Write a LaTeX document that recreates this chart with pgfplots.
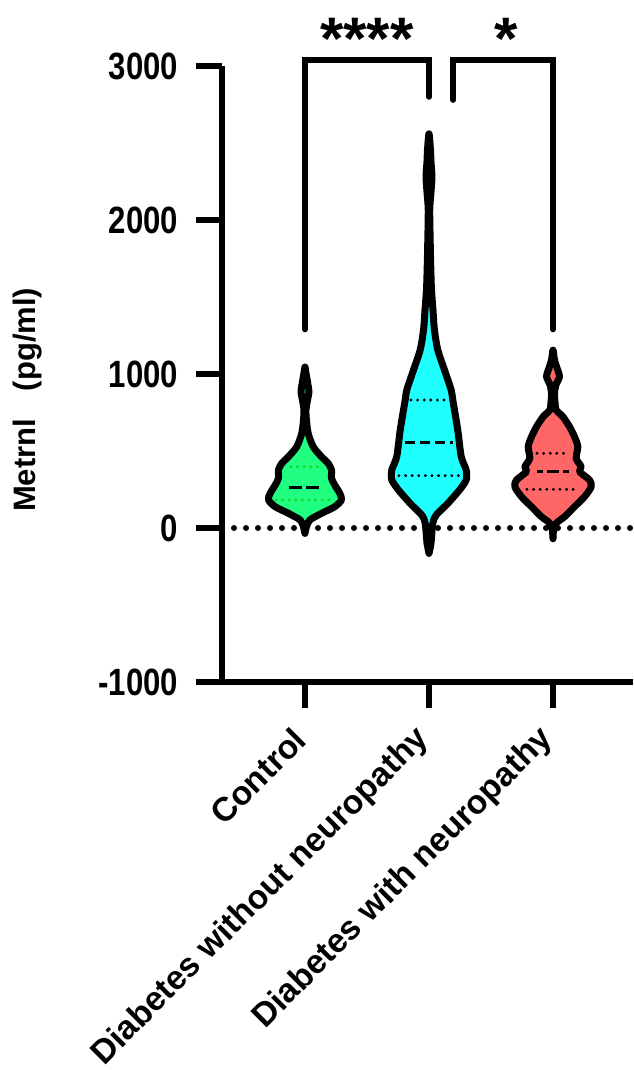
\documentclass[border=0pt]{standalone}
\usepackage{fontspec}
\setmainfont{Liberation Sans}
\usepackage{pgfplots}
\pgfplotsset{compat=1.18}
\definecolor{vgreen}{RGB}{32,255,128}
\definecolor{vcyan}{RGB}{32,255,255}
\definecolor{vred}{RGB}{255,102,102}
\definecolor{qgreen}{RGB}{20,215,40}
\begin{document}
\begin{tikzpicture}
\useasboundingbox (-111pt,-196.5pt) rectangle (205.5pt,341pt);
\begin{axis}[
  at={(0pt,0pt)}, anchor=south west,
  scale only axis, width=205.5pt, height=308pt,
  xmin=0.331, xmax=3.645, ymin=-1000, ymax=3000,
  axis x line=bottom, axis y line=left,
  axis line style={-, line width=3.3pt},
  clip=false,
  xtick={1,2,3},
  xticklabels={Control, Diabetes without neuropathy, Diabetes with neuropathy},
  ytick={-1000,0,1000,2000,3000},
  tick align=outside, major tick length=13pt,
  tick style={black, line width=3.3pt},
  scaled y ticks=false,
  /pgf/number format/1000 sep={},
  /pgf/number format/assume math mode=true,
  yticklabel style={font=\fontsize{19}{19}\selectfont\bfseries, xshift=-6pt, xscale=0.82, anchor=east},
  xticklabel style={font=\fontsize{16.8}{16.8}\selectfont\bfseries, rotate=45, anchor=east},
  xticklabel shift=10.5pt,
  ylabel={Metrnl\hspace{0.9em}(pg/ml)},
  ylabel style={font=\fontsize{15.5}{15.5}\selectfont\bfseries, at={(axis description cs:-0.472,0.458)}, anchor=center},
]
% zero line
\addplot[black, line width=3pt, dash pattern=on 0pt off 6pt, line cap=round] coordinates {(0.331,0) (3.645,0)};

% Control violin
\addplot[draw=black, line width=3.5pt, fill=vgreen, smooth, tension=0.45, line join=round] coordinates {
(1,-35) (1.012,8) (1.039,52) (1.133,95) (1.240,138) (1.294,182) (1.281,225) (1.240,279) (1.214,323) (1.214,377) (1.187,420) (1.133,463) (1.066,528) (1.026,615) (1.012,701) (1.008,766) (1.020,830) (1.032,885) (1.020,950) (1.008,1006) (1,1045)
(0.992,1006) (0.980,950) (0.968,885) (0.980,830) (0.992,766) (0.988,701) (0.974,615) (0.934,528) (0.867,463) (0.813,420) (0.786,377) (0.786,323) (0.760,279) (0.719,225) (0.706,182) (0.760,138) (0.867,95) (0.961,52) (0.988,8)
} -- cycle;

% Diabetes without neuropathy violin
\addplot[draw=black, line width=3.5pt, fill=vcyan, smooth, tension=0.45, line join=round] coordinates {
(2,-165) (2.016,-100) (2.031,31) (2.058,84) (2.152,160) (2.246,247) (2.300,312) (2.300,377) (2.260,463) (2.232,636) (2.192,831) (2.179,896) (2.125,1026) (2.071,1156) (2.044,1286) (2.032,1416) (2.020,1550) (2.015,1675) (2.010,1851) (2.006,2065) (2.016,2180) (2.024,2281) (2.016,2380) (2.012,2455) (2,2560)
(1.988,2455) (1.984,2380) (1.976,2281) (1.984,2180) (1.994,2065) (1.990,1851) (1.985,1675) (1.980,1550) (1.968,1416) (1.956,1286) (1.929,1156) (1.875,1026) (1.821,896) (1.808,831) (1.768,636) (1.740,463) (1.700,377) (1.700,312) (1.754,247) (1.848,160) (1.942,84) (1.969,31) (1.984,-100)
} -- cycle;

% Diabetes with neuropathy violin
\addplot[draw=black, line width=3.5pt, fill=vred, smooth, tension=0.45, line join=round] coordinates {
(3,-70) (3.004,-20) (3.026,31) (3.093,73) (3.173,138) (3.254,203) (3.308,268) (3.294,312) (3.214,366) (3.227,398) (3.187,452) (3.200,528) (3.173,593) (3.133,658) (3.079,723) (3.026,766) (3.016,820) (3.012,875) (3.024,930) (3.052,983) (3.032,1040) (3.012,1091) (3,1155)
(2.988,1091) (2.968,1040) (2.948,983) (2.976,930) (2.988,875) (2.984,820) (2.974,766) (2.921,723) (2.867,658) (2.827,593) (2.800,528) (2.813,452) (2.773,398) (2.786,366) (2.706,312) (2.692,268) (2.746,203) (2.827,138) (2.907,73) (2.974,31) (2.996,-20)
} -- cycle;

% quartiles and medians
\addplot[qgreen, line width=1.6pt, dash pattern=on 0pt off 3.3pt, line cap=round] coordinates {(0.887,398) (1.113,398)};
\addplot[black, line width=1.8pt, dash pattern=on 6.5pt off 1.8pt] coordinates {(0.871,262) (1.129,262)};
\addplot[qgreen, line width=1.6pt, dash pattern=on 0pt off 3.3pt, line cap=round] coordinates {(0.766,182) (1.234,182)};

\addplot[black, line width=1.6pt, dash pattern=on 0pt off 3.3pt, line cap=round] coordinates {(1.855,831) (2.145,831)};
\addplot[black, line width=1.8pt, dash pattern=on 5pt off 2.5pt] coordinates {(1.806,554) (2.194,554)};
\addplot[black, line width=1.6pt, dash pattern=on 0pt off 3.3pt, line cap=round] coordinates {(1.758,340) (2.242,340)};

\addplot[black, line width=1.6pt, dash pattern=on 0pt off 3.3pt, line cap=round] coordinates {(2.871,485) (3.129,485)};
\addplot[black, line width=1.8pt, dash pattern=on 3pt off 2pt on 6pt off 2pt on 3pt off 2pt] coordinates {(2.871,366) (3.129,366)};
\addplot[black, line width=1.6pt, dash pattern=on 0pt off 3.3pt, line cap=round] coordinates {(2.790,251) (3.210,251)};

% significance brackets
\addplot[black, line width=3pt, line cap=round, line join=miter] coordinates {(1,1290) (1,3040) (2,3040) (2,2800)};
\addplot[black, line width=3pt, line cap=round, line join=miter] coordinates {(2.195,2780) (2.195,3040) (3,3040) (3,1290)};
\node[font=\fontsize{30}{30}\selectfont\bfseries, anchor=base] at (axis cs:1.5,3045) {****};
\node[font=\fontsize{30}{30}\selectfont\bfseries, anchor=base] at (axis cs:2.62,3045) {*};
\end{axis}
\end{tikzpicture}
\end{document}
